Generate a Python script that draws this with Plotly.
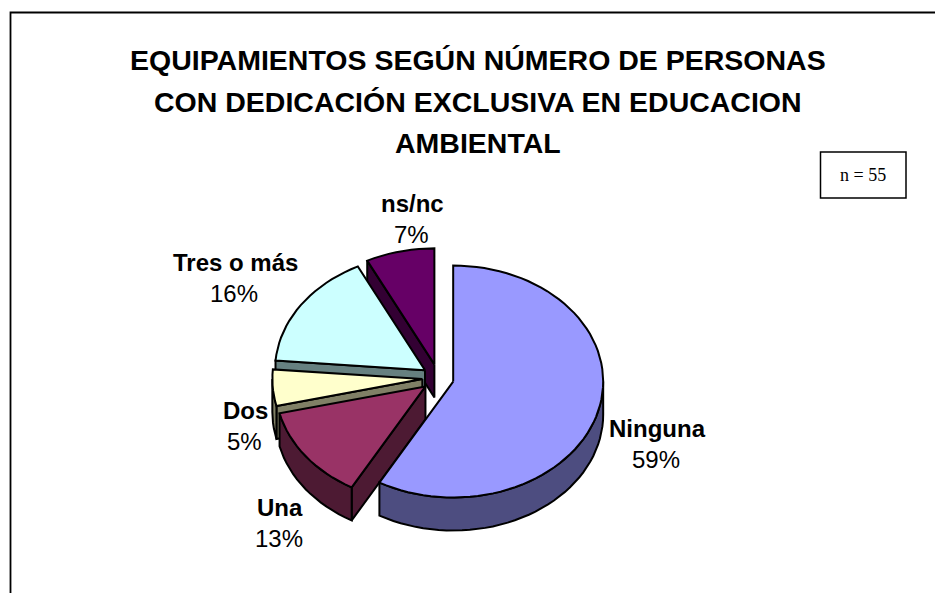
import math
import plotly.graph_objects as go

categories = ["Ninguna", "Una", "Dos", "Tres o más", "ns/nc"]
values = [59, 13, 5, 16, 7]
top_colors = ["#9999FF", "#993366", "#FFFFCC", "#CCFFFF", "#660066"]
wall_colors = ["#4D4D80", "#4D1A33", "#808066", "#668080", "#330033"]
title_lines = ["EQUIPAMIENTOS SEGÚN NÚMERO DE PERSONAS",
               "CON DEDICACIÓN EXCLUSIVA EN EDUCACION",
               "AMBIENTAL"]
title_y = [60, 102, 143]
label_x = [657, 280, 245, 235, 412]
label_y = [428, 507, 410, 262, 203]
note = "n = 55"

W, H = 935, 593
CX, CY, RX, RY = 438.0, 378.0, 150.0, 116.0
EX, EY, DEPTH = 15.7 / RX, 14.0 / RY, 33.0 / RY

fig = go.Figure()
total = sum(values)


def view(t):
    """Slight angular distortion of Excel's tilted 3-D view."""
    return t - 3.0 * math.sqrt(max(0.0, math.sin(math.radians(t / 2))))


spans = []
a = 0.0
for v in values:
    b = a + 360.0 * v / total
    spans.append((view(a), view(b)))
    a = b


def rim(t0, t1, ox, oy, dz=0.0):
    n = max(2, int(abs(t1 - t0) / 3) + 1)
    xs, ys = [], []
    for i in range(n + 1):
        t = math.radians(t0 + (t1 - t0) * i / n)
        xs.append(ox + math.sin(t))
        ys.append(oy - math.cos(t) + dz)
    return xs, ys


def poly(fig, xs, ys, color, lw=2.0):
    fig.add_trace(go.Scatter(x=xs, y=ys, mode="lines", fill="toself", fillcolor=color,
                             line=dict(color="#000000", width=lw), hoverinfo="skip",
                             showlegend=False))


for i in [4, 3, 2, 1, 0]:
    t0, t1 = spans[i]
    mid = math.radians((t0 + t1) / 2)
    ox, oy = EX * math.sin(mid), -EY * math.cos(mid)
    # radial walls that face the viewer
    visible = []
    if math.sin(math.radians(t0)) < 0:
        visible.append(t0)
    if math.sin(math.radians(t1)) > 0:
        visible.append(t1)
    for t in visible:
        px, py = rim(t, t, ox, oy)
        poly(fig, [ox, px[0], px[0], ox, ox],
             [oy, py[0], py[0] + DEPTH, oy + DEPTH, oy], wall_colors[i])
    # outer wall on the front half of the ellipse
    f0, f1 = max(t0, 90.0), min(t1, 270.0)
    if f1 > f0:
        xa, ya = rim(f0, f1, ox, oy)
        xb, yb = rim(f1, f0, ox, oy, DEPTH)
        poly(fig, xa + xb + xa[:1], ya + yb + ya[:1], wall_colors[i])
    # top face
    xa, ya = rim(t0, t1, ox, oy)
    poly(fig, [ox] + xa + [ox], [oy] + ya + [oy], top_colors[i])

annotations = []
for line, y in zip(title_lines, title_y):
    annotations.append(dict(x=478, y=y, xref="x2", yref="y2", text=f"<b>{line}</b>", showarrow=False,
                            font=dict(family="Liberation Sans", size=28.5, color="#000000")))
for c, v, x, y in zip(categories, values, label_x, label_y):
    annotations.append(dict(x=x, y=y, xref="x2", yref="y2", text=f"<b>{c}</b>", showarrow=False,
                            font=dict(family="Liberation Sans", size=24, color="#000000")))
    annotations.append(dict(x=x - 1, y=y + 31, xref="x2", yref="y2", text=f"{v}%", showarrow=False,
                            font=dict(family="Liberation Sans", size=24, color="#000000")))
annotations.append(dict(x=863, y=175, xref="x2", yref="y2", text=note, showarrow=False,
                        font=dict(family="Liberation Serif", size=18, color="#000000")))

shapes = [
    dict(type="path", xref="x2", yref="y2", path=f"M 10.5 {H} L 10.5 12.5 L {W} 12.5",
         line=dict(color="#000000", width=1.8)),
    dict(type="rect", xref="x2", yref="y2", x0=820.5, y0=152, x1=906, y1=198,
         line=dict(color="#000000", width=1.5), fillcolor="#FFFFFF"),
]

fig.update_layout(
    width=W, height=H, autosize=False, margin=dict(l=0, r=0, t=0, b=0),
    paper_bgcolor="#FFFFFF", plot_bgcolor="#FFFFFF", showlegend=False,
    xaxis=dict(range=[(0 - CX) / RX, (W - CX) / RX], visible=False, fixedrange=True, domain=[0, 1]),
    yaxis=dict(range=[(H - CY) / RY, (0 - CY) / RY], visible=False, fixedrange=True, domain=[0, 1]),
    xaxis2=dict(range=[0, W], visible=False, overlaying="x", fixedrange=True),
    yaxis2=dict(range=[H, 0], visible=False, overlaying="y", fixedrange=True),
    annotations=annotations, shapes=shapes,
)
fig.add_trace(go.Scatter(x=[0], y=[0], xaxis="x2", yaxis="y2", mode="none", hoverinfo="skip", showlegend=False))
fig.write_html("out.html", config={"displayModeBar": False},
               post_script="document.body.style.margin='0';document.body.style.overflow='hidden';")
